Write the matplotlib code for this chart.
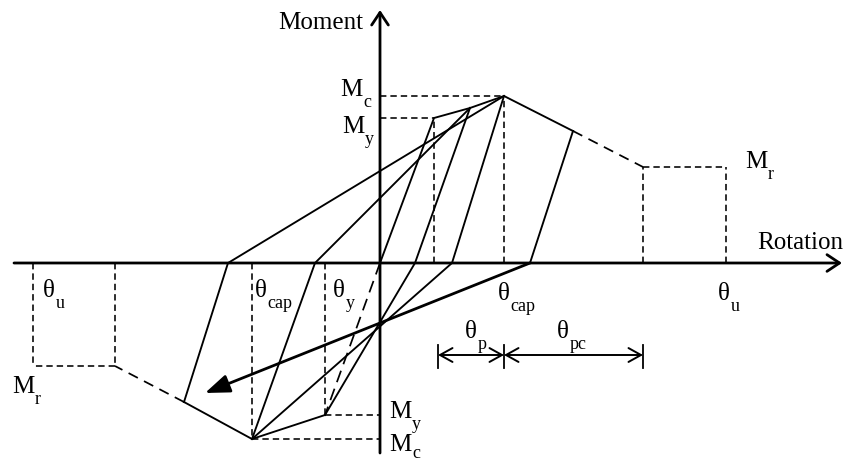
"""
Peak-oriented hysteresis model sketch (moment vs rotation).
"""

import matplotlib

matplotlib.use("Agg")
import matplotlib.pyplot as plt

plt.rcParams["font.family"] = ["Liberation Serif", "DejaVu Serif"]

# ── Backbone / hysteresis vertices (rotation, moment), schematic units ─────
theta_y, M_y = 54, 145            # positive yield
theta_mid, M_mid = 90, 155        # intermediate excursion on hardening branch
theta_cap, M_c = 124, 167         # positive capping point
theta_pc_end, M_pc_end = 193, 132  # end of drawn post-capping branch
theta_r, M_r = 263, 96            # start of residual plateau
theta_u = 346                     # ultimate rotation

theta_y_n, M_y_n = -55, -152
theta_cap_n, M_c_n = -128, -176
theta_pc_end_n, M_pc_end_n = -196, -139
theta_r_n, M_r_n = -265, -103
theta_u_n = -347

# zero-moment points after unloading
zero_pos = [35, 72, 150]     # after unloading from mid, cap, post-cap
zero_neg = [-65, -152]       # after unloading from negative cap, post-cap
arrow_tip = (-175, -130)

SOLID = dict(color="black", lw=1.35, solid_joinstyle="miter")
DASH = dict(color="black", lw=1.15, linestyle=(0, (4, 2.5)))
DASH_LONG = dict(color="black", lw=1.25, linestyle=(0, (6, 4)))


def sub_label(ax, x, y, main, sub, size=18, subsize=13, dy=-8):
    t = ax.text(x, y, main, fontsize=size, ha="left", va="baseline")
    ax.annotate(sub, xy=(1, y), xycoords=(t, "data"), xytext=(0.5, dy),
                textcoords="offset points", fontsize=subsize,
                ha="left", va="baseline")


fig = plt.figure(figsize=(8.5, 4.63), dpi=100)
ax = fig.add_axes([0, 0, 1, 1])
ax.set_xlim(-380, 470)
ax.set_ylim(-200, 263)
ax.axis("off")

# ── axes with open arrowheads ─────────────────────────────────────────────
ax.annotate("", xy=(462, 0), xytext=(-366, 0),
            arrowprops=dict(arrowstyle="->,head_length=0.45,head_width=0.3",
                            lw=2.0, mutation_scale=20, shrinkA=0, shrinkB=0))
ax.annotate("", xy=(0, 253), xytext=(0, -190),
            arrowprops=dict(arrowstyle="->,head_length=0.45,head_width=0.3",
                            lw=2.0, mutation_scale=20, shrinkA=0, shrinkB=0))
ax.text(-17, 240, "Moment", fontsize=18, ha="right", va="center")
ax.text(377, 20, "Rotation", fontsize=18, ha="left", va="center")

# ── positive backbone ──────────────────────────────────────────────────────
ax.plot([0, theta_y, theta_mid, theta_cap, theta_pc_end],
        [0, M_y, M_mid, M_c, M_pc_end], **SOLID)
ax.plot([theta_pc_end, theta_r], [M_pc_end, M_r], **DASH_LONG)
ax.plot([theta_r, theta_u], [M_r, M_r], **DASH)
ax.plot([theta_r, theta_r], [0, M_r], **DASH)
ax.plot([theta_u, theta_u], [0, M_r], **DASH)

# ── negative backbone ──────────────────────────────────────────────────────
ax.plot([0, theta_y_n], [0, M_y_n], color="black", lw=1.25,
        linestyle=(0, (7, 4)))
ax.plot([theta_y_n, theta_cap_n, theta_pc_end_n],
        [M_y_n, M_c_n, M_pc_end_n], **SOLID)
ax.plot([theta_pc_end_n, theta_r_n], [M_pc_end_n, M_r_n], **DASH_LONG)
ax.plot([theta_r_n, theta_u_n], [M_r_n, M_r_n], **DASH)
ax.plot([theta_r_n, theta_r_n], [0, M_r_n], **DASH)
ax.plot([theta_u_n, theta_u_n], [0, M_r_n], **DASH)

# ── reference dashed lines to the axes ─────────────────────────────────────
ax.plot([0, theta_cap], [M_c, M_c], **DASH)
ax.plot([0, theta_y], [M_y, M_y], **DASH)
ax.plot([theta_y, theta_y], [0, M_y], **DASH)
ax.plot([theta_cap, theta_cap], [0, M_c], **DASH)
ax.plot([theta_y_n, 0], [M_y_n, M_y_n], **DASH)
ax.plot([theta_cap_n, 0], [M_c_n, M_c_n], **DASH)
ax.plot([theta_y_n, theta_y_n], [0, M_y_n], **DASH)
ax.plot([theta_cap_n, theta_cap_n], [0, M_c_n], **DASH)

# ── unloading / reloading cycles ───────────────────────────────────────────
ax.plot([theta_mid, zero_pos[0], theta_y_n], [M_mid, 0, M_y_n], **SOLID)
ax.plot([theta_cap, zero_pos[1], theta_cap_n], [M_c, 0, M_c_n], **SOLID)
ax.plot([theta_pc_end, zero_pos[2]], [M_pc_end, 0], **SOLID)
ax.plot([theta_cap_n, zero_neg[0], theta_mid], [M_c_n, 0, M_mid], **SOLID)
ax.plot([theta_pc_end_n, zero_neg[1], theta_cap], [M_pc_end_n, 0, M_c], **SOLID)
ax.annotate("", xy=arrow_tip, xytext=(zero_pos[2], 0),
            arrowprops=dict(arrowstyle="-|>,head_length=0.75,head_width=0.28",
                            lw=2.0, color="black", mutation_scale=20,
                            shrinkA=0, shrinkB=0))

# ── dimension arrows ───────────────────────────────────────────────────────
dim_y = -92
for xv in [58, theta_cap, theta_r]:
    ax.plot([xv, xv], [dim_y + 10, dim_y - 13], color="black", lw=1.3)
for x0, x1 in [(58, theta_cap), (theta_cap, theta_r)]:
    ax.annotate("", xy=(x1, dim_y), xytext=(x0, dim_y),
                arrowprops=dict(arrowstyle="<->,head_length=0.45,head_width=0.25",
                                lw=1.4, mutation_scale=20, shrinkA=0, shrinkB=0))

# ── labels ─────────────────────────────────────────────────────────────────
sub_label(ax, -40, 167, "M", "c")
sub_label(ax, -38, 130, "M", "y")
sub_label(ax, 9, -155, "M", "y")
sub_label(ax, 9, -188, "M", "c", dy=-5)
sub_label(ax, 365, 95, "M", "r")
sub_label(ax, -368, -130, "M", "r")
sub_label(ax, -337, -34, "θ", "u")
sub_label(ax, -125, -34, "θ", "cap")
sub_label(ax, -47, -34, "θ", "y")
sub_label(ax, 118, -37, "θ", "cap")
sub_label(ax, 338, -37, "θ", "u")
sub_label(ax, 85, -75, "θ", "p")
sub_label(ax, 177, -75, "θ", "pc")

fig.savefig("out.png", dpi=100)
